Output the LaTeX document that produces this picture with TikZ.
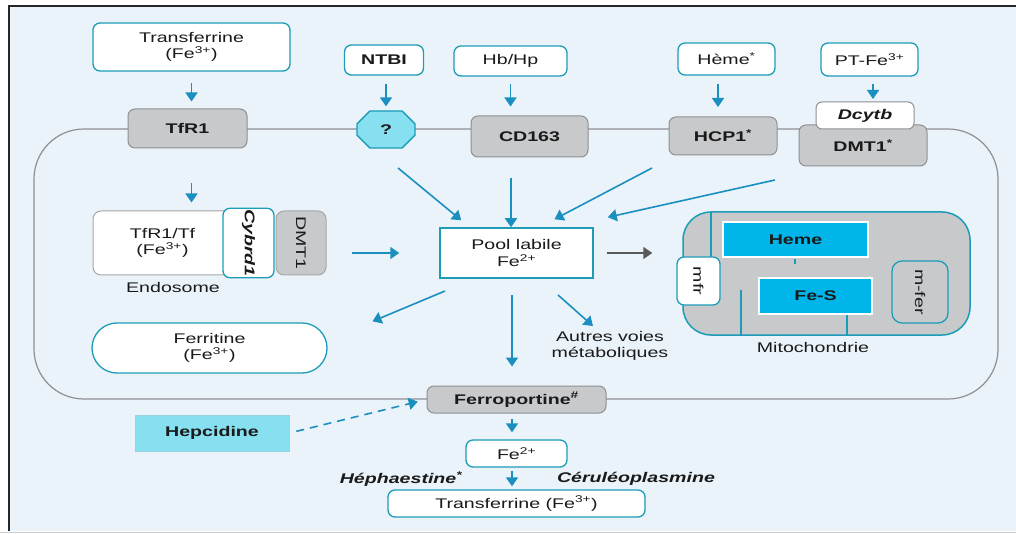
\documentclass[tikz,border=0pt]{standalone}
\usepackage{fontspec}
\setmainfont{Liberation Sans}[FakeStretch=1.4]
\usetikzlibrary{
    positioning,
    arrows.meta,
    shapes.misc
}

\definecolor{tealb}{HTML}{1C9CB8}
\definecolor{arrowc}{HTML}{1A8FC0}
\definecolor{grayfill}{HTML}{C8C9CB}
\definecolor{grayline}{HTML}{8E9092}
\definecolor{bgblue}{HTML}{EAF3FA}
\definecolor{cyanlt}{HTML}{86E0F0}
\definecolor{cyanbox}{HTML}{00B5EA}
\definecolor{txtdark}{HTML}{1A1A1A}

\begin{document}
\begin{tikzpicture}[x=1pt, y=-1pt,
    % Estilos de nodos
    every node/.style={font=\fontsize{14}{16.5}\selectfont, text=txtdark, align=center, inner sep=1pt},
    ext_box/.style={draw=tealb, line width=1.3pt, fill=white, rounded corners=7pt},
    memb_prot/.style={draw=grayline, line width=1pt, fill=grayfill, rounded corners=7pt,
        font=\fontsize{14}{16.5}\selectfont\bfseries},
    endo_box/.style={draw=grayline!80, line width=1pt, rounded corners=8pt, minimum height=64pt},
    mito_box/.style={fill=cyanbox, draw=white, line width=1.5pt, font=\fontsize{14}{16.5}\selectfont\bfseries},
    side_box/.style={draw=tealb, line width=1.3pt, rounded corners=7pt},
    % Estilos de flechas
    arrow/.style={-{Triangle[width=12pt,length=9pt]}, line width=1.6pt, draw=arrowc},
    gray_arrow/.style={arrow, draw=black!65},
    dash_arrow/.style={arrow, dash pattern=on 8pt off 6pt},
    tline/.style={draw=tealb, line width=1.3pt}
]
\useasboundingbox (0,0) rectangle (1016,534);

% --- Fondo y marco ---
\fill[white] (0,0) rectangle (1016,534);
\fill[bgblue] (10,7) rectangle (1016,531);
\draw[black!85, line width=2pt] (9,531) -- (9,6) -- (1016,6);
\draw[black!20, line width=1pt] (0,532.5) -- (1016,532.5);

% --- Membrana celular ---
\draw[grayline, line width=1.2pt, rounded corners=50pt] (34,129) rectangle (998,399);

% --- Fuentes de hierro (exterior) ---
\node[ext_box, minimum width=197pt, minimum height=48pt] (tf_out) at (191.5,47) {Transferrine\\(Fe\textsuperscript{3+})};
\node[ext_box, minimum width=79pt, minimum height=30pt, font=\fontsize{14}{16.5}\selectfont\bfseries] (ntbi) at (384,60) {NTBI};
\node[ext_box, minimum width=113pt, minimum height=30pt] (hbhp) at (510.5,61) {Hb/Hp};
\node[ext_box, minimum width=97pt, minimum height=32pt] (heme_out) at (726.5,59) {Hème\textsuperscript{*}};
\node[ext_box, minimum width=97pt, minimum height=33pt] (ptfe) at (869.5,59.5) {PT-Fe\textsuperscript{3+}};

% --- Transportadores de membrana ---
\node[memb_prot, minimum width=119pt, minimum height=39pt] (tfr1) at (187.5,128.5) {TfR1};
\node[chamfered rectangle, chamfered rectangle xsep=10pt, chamfered rectangle ysep=7.5pt,
      draw=tealb, line width=1.3pt, fill=cyanlt, minimum width=58pt, minimum height=37pt,
      font=\fontsize{14}{16.5}\selectfont\bfseries] (oct) at (386,129.5) {?};
\node[memb_prot, minimum width=117pt, minimum height=41pt] (cd163) at (529.5,136.5) {CD163};
\node[memb_prot, minimum width=108pt, minimum height=38pt] (hcp1) at (723,136) {HCP1\textsuperscript{*}};
\node[memb_prot, minimum width=128pt, minimum height=41pt] (dmt1) at (863,145.5) {\raisebox{-3pt}{DMT1\textsuperscript{*}}};
\node[draw=grayline, line width=1pt, fill=white, rounded corners=6pt, minimum width=98pt, minimum height=27pt,
      font=\fontsize{14}{16.5}\selectfont\bfseries\itshape] (dcytb) at (865,115.5) {Dcytb};

\draw[arrow, shorten <=11pt, shorten >=7pt] (tf_out.south) -- (tf_out.south |- tfr1.north);
\draw[arrow, shorten <=8pt, shorten >=4pt] (ntbi.south -| oct.north) -- (oct.north);
\draw[arrow, shorten <=7pt, shorten >=9pt] (hbhp.south) -- (hbhp.south |- cd163.north);
\draw[arrow, shorten <=8pt, shorten >=10pt] (heme_out.south -| 718,0) -- (718,117);
\draw[arrow, shorten <=7pt, shorten >=3pt] (ptfe.south -| 873,0) -- (873,102);

% --- Endosoma ---
\node[endo_box, fill=white, minimum width=139pt] (tfr1tf) at (162.5,243) {TfR1/Tf\\(Fe\textsuperscript{3+})};
\node[side_box, fill=white, rotate=-90, minimum width=64pt, minimum height=51pt,
      font=\fontsize{14}{16.5}\selectfont\bfseries\itshape] (cybrd) at (248.5,243) {Cybrd1};
\node[endo_box, fill=grayfill, rotate=-90, minimum width=64pt, minimum height=50pt] (dmt1e) at (301,243) {DMT1};
\node (endosome) at (173,287) {Endosome};
\draw[arrow, shorten <=35pt, shorten >=8pt] (tf_out.south |- tfr1.south) -- (tf_out.south |- tfr1tf.north);

% --- Ferritina ---
\node[ext_box, rounded corners=25pt, minimum width=235pt, minimum height=50pt] (ferritine) at (209.5,348) {Ferritine\\(Fe\textsuperscript{3+})};

% --- Pool labile ---
\node[draw=tealb, line width=1.5pt, fill=white, minimum width=153pt, minimum height=50pt] (pool) at (516.5,253) {Pool labile\\Fe\textsuperscript{2+}};
\node (autres) at (610,346) {Autres voies\\métaboliques};

% --- Mitocondria ---
\node[draw=tealb, line width=1.5pt, fill=grayfill, rounded corners=28pt, minimum width=287pt, minimum height=123pt] (mito) at (826.5,273.5) {};
\draw[tline] (711,212) -- (711,257);
\draw[tline] (741,290) -- (741,335);
\draw[tline] (847,314) -- (847,335);
\draw[tline] (795,259) -- (795,264);
\node[mito_box, minimum width=145pt, minimum height=35pt] (heme_m) at (795.5,239.5) {Heme};
\node[mito_box, minimum width=113pt, minimum height=36pt] (fes) at (815.5,296) {Fe-S};
\node[side_box, fill=white, rotate=-90, minimum width=48pt, minimum height=43pt] (mfr) at (698.5,281) {mfr};
\node[side_box, fill=grayfill, rounded corners=10pt, rotate=-90, minimum width=62pt, minimum height=56pt] (mfer) at (920,292) {m-fer};
\node (mito_lbl) at (813,347) {Mitochondrie};

% --- Flechas hacia el pool ---
\coordinate (oct_src) at (398,168);
\coordinate (cd_src) at (511,178);
\coordinate (hcp_src) at (652,168);
\coordinate (dmt_src) at (775,180);
\coordinate (endo_src) at (352,253);
\draw[arrow] (oct_src) -- ([shift={(22,-7)}]pool.north west);
\draw[arrow, line width=2pt] (cd_src) -- (cd_src |- pool.north);
\draw[arrow] (hcp_src) -- ([shift={(38,-8)}]pool.north);
\draw[arrow] (dmt_src) -- ([shift={(14,-10)}]pool.north east);
\draw[arrow, shorten >=40pt] (endo_src) -- (pool.west);
\draw[gray_arrow, shorten <=13pt, shorten >=30pt] (pool.east) -- (pool.east -| mito.west);

% --- Flechas desde el pool ---
\coordinate (pool_fe) at (445,291);
\coordinate (pool_fp) at (512,295);
\coordinate (pool_av) at (558,295);
\draw[arrow] (pool_fe) -- ([shift={(163,-1)}]ferritine.north);
\draw[arrow] (pool_av) -- ([shift={(-17,-4)}]autres.north);

% --- Ferroportina y salida ---
\node[memb_prot, minimum width=179pt, minimum height=27pt] (ferro) at (516.5,399.5) {Ferroportine\textsuperscript{\#}};
\node[ext_box, minimum width=101pt, minimum height=27pt] (fe2) at (516.5,453.5) {Fe\textsuperscript{2+}};
\node[ext_box, minimum width=257pt, minimum height=27pt] (tf_blood) at (516.5,503.5) {Transferrine (Fe\textsuperscript{3+})};
\node[font=\fontsize{14}{16.5}\selectfont\bfseries\itshape] (heph) at (401,479) {Héphaestine\textsuperscript{*}};
\node[font=\fontsize{14}{16.5}\selectfont\bfseries\itshape] (cerul) at (636,479) {Céruléoplasmine};
\draw[arrow, shorten >=19pt] (pool_fp) -- (pool_fp |- ferro.north);
\draw[arrow, shorten <=5pt, shorten >=7pt] (ferro.south -| pool_fp) -- (pool_fp |- fe2.north);
\draw[arrow, shorten <=3pt, shorten >=3pt] (fe2.south -| pool_fp) -- (pool_fp |- tf_blood.north);

% --- Hepcidina ---
\node[fill=cyanlt, draw=tealb!45, line width=1pt, minimum width=154pt, minimum height=36pt,
      font=\fontsize{14}{16.5}\selectfont\bfseries] (hepc) at (212,433) {Hepcidine};
\draw[dash_arrow, shorten <=7pt, shorten >=9pt] (hepc.east) -- (ferro.west);

\end{tikzpicture}
\end{document}
